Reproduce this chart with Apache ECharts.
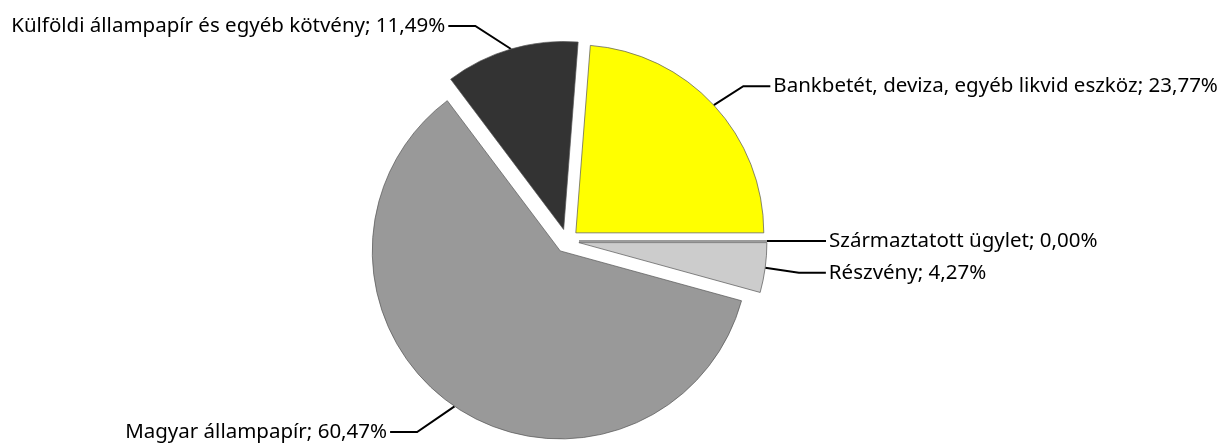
<!DOCTYPE html>
<html>
<head>
<meta charset="utf-8">
<script src="https://cdn.jsdelivr.net/npm/echarts@6/dist/echarts.min.js"></script>
<style>
html, body { margin: 0; padding: 0; background: #fff; }
#main { width: 1231px; height: 444px; }
</style>
</head>
<body>
<div id="main"></div>
<script>
// megoszlás (%) - sorrend az óramutató járása szerint, 3 órától felfelé kezdve
var categories = [
    'Bankbetét, deviza, egyéb likvid eszköz',
    'Származtatott ügylet',
    'Részvény',
    'Magyar állampapír',
    'Külföldi állampapír és egyéb kötvény'
];
var shares = [23.77, 0.00, 4.27, 60.47, 11.49];

var sliceColors = ['#ffff00', '#ffffff', '#cccccc', '#999999', '#333333'];
var lineLen = [28, 30, 37, 31, 24];
var lineLen2 = [36, 29, 24, 47, 56];

var total = 0;
for (var i = 0; i < shares.length; i++) {
    total += shares[i];
}

var pieData = [];
for (var i = 0; i < categories.length; i++) {
    pieData.push({
        name: categories[i],
        value: shares[i],
        selected: true,
        itemStyle: { color: sliceColors[i] },
        labelLine: { length: lineLen[i], length2: lineLen2[i] }
    });
}

var chart = echarts.init(document.getElementById('main'));
chart.setOption({
    animation: false,
    series: [{
        type: 'pie',
        left: 0,
        top: 0,
        width: 1400,
        height: 444,
        center: [567, 241],
        radius: 188,
        startAngle: shares[0] / total * 360,
        clockwise: true,
        selectedMode: 'multiple',
        selectedOffset: 12,
        avoidLabelOverlap: false,
        minShowLabelAngle: 0,
        itemStyle: { borderColor: '#555', borderWidth: 0.7 },
        emphasis: { disabled: true },
        label: {
            show: true,
            position: 'outside',
            color: '#000',
            fontFamily: 'Noto Sans',
            fontSize: 20.5,
            distanceToLabelLine: 3,
            bleedMargin: 0,
            formatter: function (p) {
                return p.name + '; ' + p.value.toFixed(2).replace('.', ',') + '%';
            }
        },
        labelLine: {
            show: true,
            smooth: false,
            lineStyle: { color: '#000', width: 2 }
        },
        labelLayout: function (params) {
            var pts = params.labelLinePoints;
            if (!pts) return {};
            var isLeft = pts[2][0] < pts[0][0];
            pts[1][0] = pts[2][0] + (isLeft ? 27 : -27);
            return { labelLinePoints: pts };
        },
        data: pieData
    }]
});
</script>
</body>
</html>
